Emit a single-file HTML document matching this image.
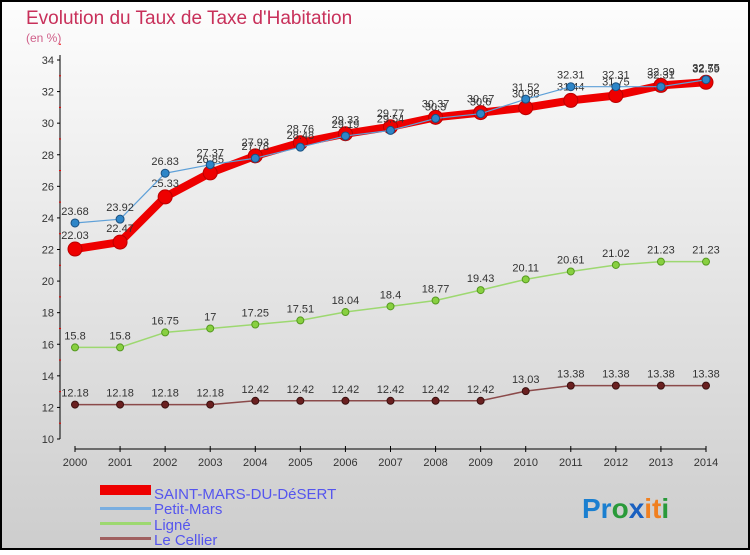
<!DOCTYPE html>
<html><head><meta charset="utf-8"><style>
body{margin:0;width:750px;height:550px;overflow:hidden;font-family:"Liberation Sans",sans-serif}
</style></head><body>
<svg id="c" width="750" height="550" xmlns="http://www.w3.org/2000/svg">
<defs><linearGradient id="bg" x1="0" y1="0" x2="0" y2="1"><stop offset="0" stop-color="#fdfdfd"/><stop offset="1" stop-color="#cdcdcd"/></linearGradient></defs>
<rect x="1" y="1" width="748" height="548" fill="url(#bg)" stroke="#000" stroke-width="2"/>
<text x="26" y="24" font-size="19" fill="#c8305a">Evolution du Taux de Taxe d'Habitation</text>
<text x="26" y="42" font-size="12" fill="#d0608a">(en %)</text>
<g id="axes"></g><g id="series"></g>
<g>
<rect x="100" y="485" width="51" height="10" fill="#e00"/>
<text x="154" y="499" font-size="15" fill="#5555ee">SAINT-MARS-DU-DéSERT</text>
<rect x="100" y="507" width="51" height="3" fill="#7aaee0"/>
<text x="154" y="514" font-size="15" fill="#5555ee">Petit-Mars</text>
<rect x="100" y="522" width="51" height="3" fill="#9dd870"/>
<text x="154" y="530" font-size="15" fill="#5555ee">Ligné</text>
<rect x="100" y="537" width="51" height="3" fill="#a06060"/>
<text x="154" y="545" font-size="15" fill="#5555ee">Le Cellier</text>
</g>
<text x="582" y="518" font-size="28" font-weight="bold"><tspan fill="#1a7fd0">Pr</tspan><tspan fill="#2a9a3a">o</tspan><tspan fill="#1a60c0">x</tspan><tspan fill="#f08020">it</tspan><tspan fill="#2a9a3a">i</tspan></text>
</svg>
<script>
const years=[2000,2001,2002,2003,2004,2005,2006,2007,2008,2009,2010,2011,2012,2013,2014];
const yTicks=[10,12,14,16,18,20,22,24,26,28,30,32,34];
const saintMars=[22.03,22.47,25.33,26.85,27.93,28.76,29.33,29.77,30.37,30.67,30.98,31.44,31.75,32.39,32.59];
const petitMars=[23.68,23.92,26.83,27.37,27.78,28.48,29.19,29.54,30.3,30.6,31.52,32.31,32.31,32.31,32.75];
const ligne=[15.8,15.8,16.75,17,17.25,17.51,18.04,18.4,18.77,19.43,20.11,20.61,21.02,21.23,21.23];
const leCellier=[12.18,12.18,12.18,12.18,12.42,12.42,12.42,12.42,12.42,12.42,13.03,13.38,13.38,13.38,13.38];
const NS="http://www.w3.org/2000/svg";
const X=i=>75+i*(631/14), Y=v=>439-(v-10)*(379/24);
function mk(t,a,p){const e=document.createElementNS(NS,t);for(const k in a)e.setAttribute(k,a[k]);p.appendChild(e);return e;}
const ax=document.getElementById('axes'),sg=document.getElementById('series');
let l=mk('line',{x1:60,y1:55,x2:60,y2:439,stroke:'#000'},ax);


l=mk('line',{x1:75,y1:449,x2:706,y2:449,stroke:'#000'},ax);


yTicks.forEach(v=>{mk('line',{x1:57,x2:60,y1:Y(v),y2:Y(v),stroke:'#000'},ax);
 const t=mk('text',{x:54,y:Y(v)+4,'font-size':11,'text-anchor':'end',fill:'#333'},ax);t.textContent=v;
 
 
 mk('line',{x1:59,x2:61,y1:Y(v+1),y2:Y(v+1),stroke:'#e00'},ax);});
years.forEach((y,i)=>{mk('line',{x1:X(i),x2:X(i),y1:446,y2:452,stroke:'#000'},ax);
 const t=mk('text',{x:X(i),y:466,'font-size':11,'text-anchor':'middle',fill:'#333'},ax);t.textContent=y;
 
 });
function series(vals,name,col,w,r,dot,dstroke,lab){
 const g=mk('g',{},sg);
 
 
 const p=mk('polyline',{points:vals.map((v,i)=>X(i)+','+Y(v)).join(' '),fill:'none',stroke:col,'stroke-width':w,'stroke-linejoin':'round'},g);
 
 
 vals.forEach((v,i)=>{const c=mk('circle',{cx:X(i),cy:Y(v),r:r,fill:dot,stroke:dstroke},g);
  
  
  const t=mk('text',{x:X(i),y:Y(v)-lab,'font-size':11,'text-anchor':'middle',fill:'#333'},g);t.textContent=v;
  
  });
}
series(leCellier,'le-cellier','#8b4a4a',1.5,3.5,'#6a2020','#3a1010',8);
series(ligne,'ligne','#9dd870',1.5,3.5,'#88d040','#559920',8);
series(saintMars,'saint-mars','#e00',8,7,'#e00','#b00',10);
series(petitMars,'petit-mars','#5ea0d8',1.2,4,'#2e86c8','#1a5080',8);
</script>
</body></html>
